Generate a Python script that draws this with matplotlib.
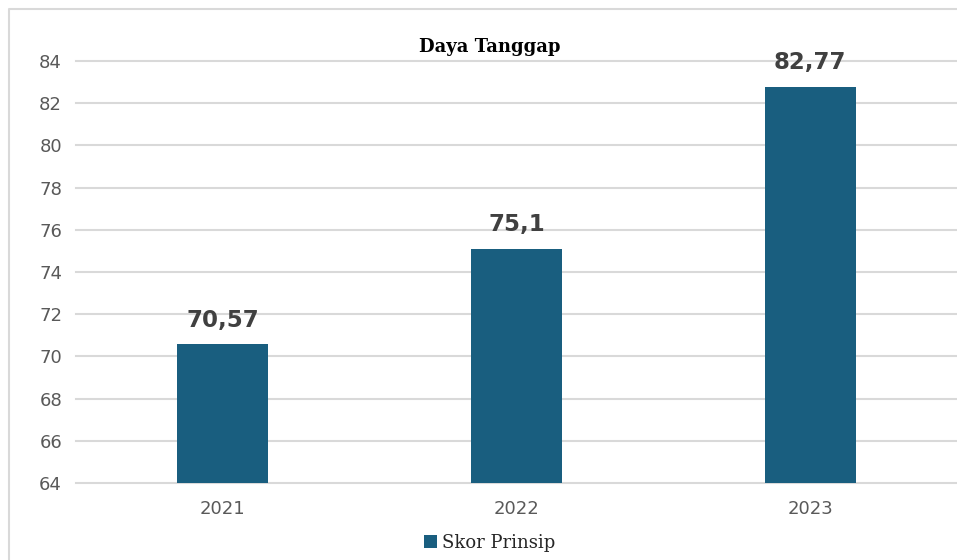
import matplotlib.pyplot as plt
from matplotlib.lines import Line2D

# data
tahun = ["2021", "2022", "2023"]
skor = [70.57, 75.1, 82.77]
label_skor = ["70,57", "75,1", "82,77"]

warna_bar = "#195e7f"
warna_teks = "#595959"

fig = plt.figure(figsize=(9.57, 5.6), dpi=100)
ax = fig.add_axes([76 / 957, 1 - 483 / 560, 1 - 76 / 957, (483 - 61) / 560])

# bingkai luar (kiri dan atas saja yang terlihat)
kiri = 9 / 957
atas = 1 - 9 / 560
fig.lines.append(Line2D([kiri, kiri, 1.05], [-0.05, atas, atas],
                        transform=fig.transFigure, color="#d9d9d9",
                        linewidth=1.5))

x = range(len(tahun))
bars = ax.bar(x, skor, width=0.31, color=warna_bar, zorder=3,
              label="Skor Prinsip")

for b, t in zip(bars, label_skor):
    ax.annotate(t, (b.get_x() + b.get_width() / 2, b.get_height()),
                xytext=(0, 9), textcoords="offset points",
                ha="center", va="bottom", fontsize=16.5, fontweight="bold",
                color="#404040")

ax.set_xlim(-0.5, 2.5)
ax.set_ylim(64, 84)
ax.set_yticks(range(64, 85, 2))
ax.set_xticks(list(x))
ax.set_xticklabels(tahun)
ax.yaxis.grid(True, color="#d9d9d9", linewidth=1.5, zorder=0)
for g in ax.get_ygridlines():
    g.set_clip_on(False)
ax.set_axisbelow(True)
for s in ax.spines.values():
    s.set_visible(False)
ax.tick_params(length=0, labelsize=13, colors=warna_teks, pad=10)
ax.tick_params(axis="x", pad=12)

fig.text(490 / 957, 1 - 47 / 560, "Daya Tanggap", ha="center", va="center",
         fontsize=13, fontweight="bold", family="DejaVu Serif", color="black")

leg = fig.legend(loc="center", bbox_to_anchor=(490 / 957, 1 - 543 / 560),
                 frameon=False, handlelength=0.7, handleheight=0.7,
                 handletextpad=0.3, prop={"family": "DejaVu Serif", "size": 13})
for t in leg.get_texts():
    t.set_color("#262626")

fig.savefig("out.png", dpi=100)
